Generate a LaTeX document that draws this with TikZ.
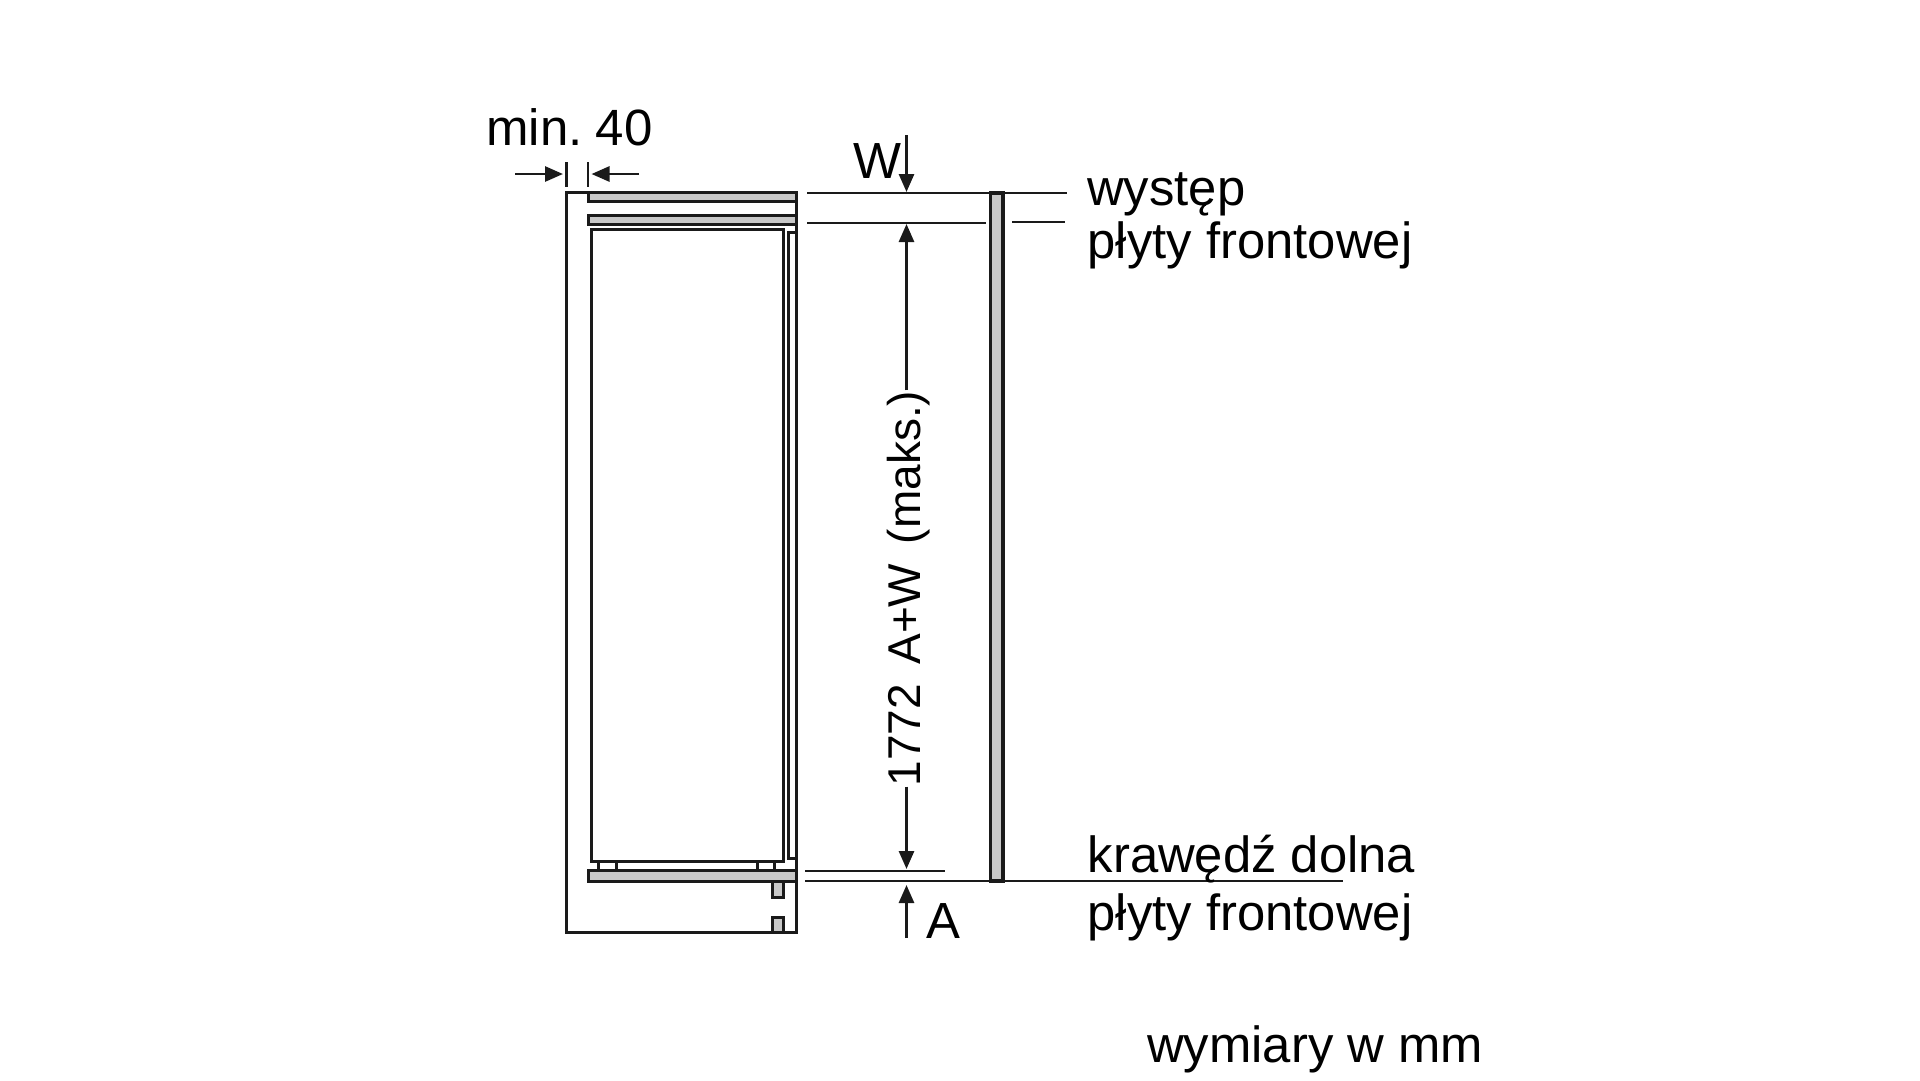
\documentclass[tikz,border=0pt]{standalone}
\usepackage{fontspec}
\setmainfont{Liberation Sans}
\usetikzlibrary{arrows.meta}
\definecolor{panelgray}{HTML}{C8C8C8}
\definecolor{inkblack}{HTML}{1A1A1A}
\tikzset{
  x=1pt,y=-1pt,
  ink/.style={draw=inkblack,line width=3pt},
  panel/.style={draw=inkblack,line width=3pt,fill=panelgray},
  dimline/.style={draw=inkblack,line width=2.8pt},
  dimarrow/.style={draw=inkblack,line width=2.8pt,-{Triangle[length=18pt,width=15pt]}},
  label/.style={font=\fontsize{50.8pt}{52pt}\selectfont,text=black,inner sep=0pt,anchor=base west}
}
\begin{document}
\begin{tikzpicture}
\useasboundingbox (0,0) rectangle (1920,1080);
% cabinet
\draw[ink] (566,192) rectangle (796,932);
\draw[panel] (588,192) rectangle (796,201.5);
\draw[panel] (588,215) rectangle (796,224);
\draw[panel] (588,870) rectangle (796,881.5);
\draw[ink] (591,229) rectangle (783.5,861);
\draw[ink] (796,232) -- (788,232) -- (788,858) -- (796,858);
\draw[ink] (598,861) -- (598,870);
\draw[ink] (616,861) -- (616,870);
\draw[ink] (757,861) -- (757,870);
\draw[ink] (774.5,861) -- (774.5,870);
\draw[panel] (772,881.5) rectangle (783.5,897);
\draw[panel] (772,917) rectangle (783.5,932);
% front strip
\draw[panel,line width=3.2pt] (990.5,193) rectangle (1003,881);
% reference lines
\coordinate (topL) at (807,193);
\coordinate (topR) at (1067,193);
\coordinate (secL) at (807,223);
\coordinate (secM) at (986,223);
\coordinate (secN) at (1012,222);
\coordinate (secR) at (1065,222);
\coordinate (lowL) at (805,871);
\coordinate (lowM) at (945,871);
\coordinate (botL) at (805,881);
\coordinate (botR) at (1343,881);
\draw[dimline] (topL) -- (topR);
\draw[dimline] (secL) -- (secM);
\draw[dimline] (secN) -- (secR);
\draw[dimline] (lowL) -- (lowM);
\draw[dimline] (botL) -- (botR);
% min 40
\coordinate (tickAt) at (566.5,162);
\coordinate (tickAb) at (566.5,187);
\coordinate (tickBt) at (588,162);
\coordinate (tickBb) at (588,187);
\coordinate (minLs) at (515,174);
\coordinate (minLe) at (563,174);
\coordinate (minRs) at (639,174);
\coordinate (minRe) at (591.5,174);
\draw[dimline] (tickAt) -- (tickAb);
\draw[dimline] (tickBt) -- (tickBb);
\draw[dimarrow] (minLs) -- (minLe);
\draw[dimarrow] (minRs) -- (minRe);
% W, A arrows
\coordinate (wS) at (906.5,135);
\coordinate (wE) at (906.5,192);
\coordinate (aS) at (906.5,938);
\coordinate (aE) at (906.5,885);
\draw[dimarrow] (wS) -- (wE);
\draw[dimarrow] (aS) -- (aE);
% main dimension
\node[label,rotate=90,font=\fontsize{46pt}{48pt}\selectfont] (dim) at (920,786.5) {1772\hspace{19.5pt}A+W\hspace{19.5pt}(maks.)};
\coordinate (dimT) at (906.5,224);
\coordinate (dimB) at (906.5,869);
\draw[dimarrow] (dim.east -| dimT) -- (dimT);
\draw[dimarrow] (dim.west -| dimB) -- (dimB);
% texts
\node[label,font=\fontsize{51pt}{52pt}\selectfont] (min) at (486,145) {min.\hspace{13.4pt}40};
\node[label] (w) at (853,178) {W};
\node[label] (a) at (926,938) {A};
\node[label] (t1) at (1087,205) {występ};
\node[label] (t2) at (1087.5,258) {płyty frontowej};
\node[label] (t3) at (1087.5,872) {krawędź dolna};
\node[label] (t4) at (1087.5,930) {płyty frontowej};
\node[label] (t5) at (1147,1062) {wymiary w mm};
\end{tikzpicture}
\end{document}
